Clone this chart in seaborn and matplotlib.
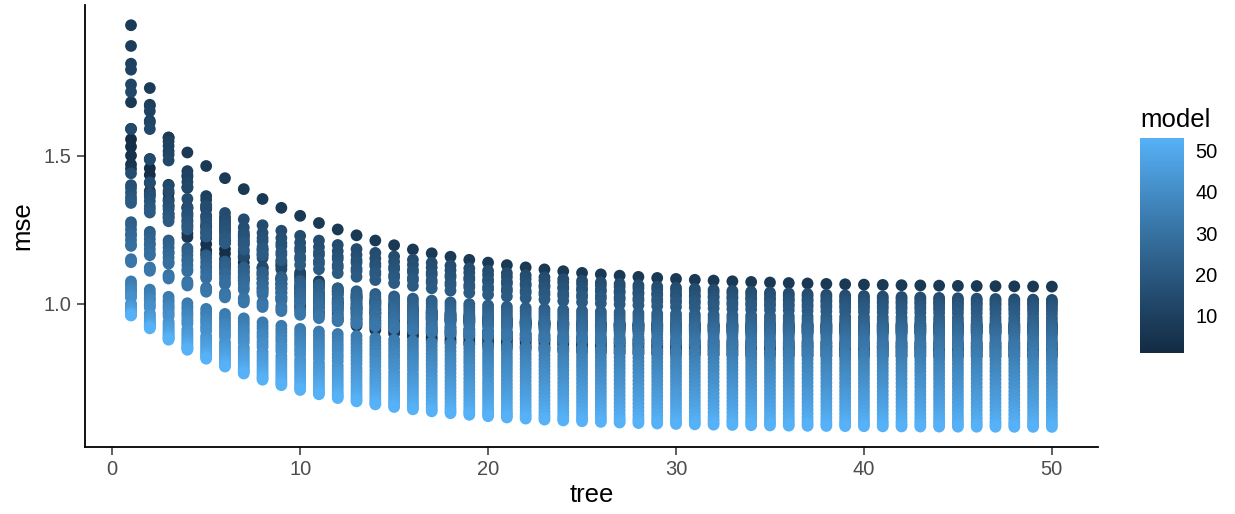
import numpy as np
import pandas as pd
import matplotlib
matplotlib.use("Agg")
import matplotlib.pyplot as plt
import seaborn as sns
from matplotlib.colors import ListedColormap, Normalize
from matplotlib.cm import ScalarMappable

# ---------------- data ----------------
trees = list(range(1, 51))
models = list(range(1, 54))
# mse at tree 1 per model
start_mse = [1.59, 1.555, 1.53, 1.50, 1.47, 1.455, 1.68, 1.94, 1.87, 1.81,
             1.79, 1.74, 1.715, 1.59, 1.44, 1.40, 1.39, 1.375, 1.36, 1.35,
             1.34, 1.275, 1.265, 1.25, 1.235, 1.23, 1.215, 1.20, 1.195, 1.15,
             1.145, 1.14, 1.075, 1.065, 1.06, 1.05, 1.045, 1.04, 1.03, 1.025,
             1.02, 1.0, 0.995, 0.99, 0.985, 0.98, 0.975, 0.97, 0.968, 0.965,
             0.963, 0.962, 0.96]
# mse at tree 50 per model
end_mse = [0.865, 0.855, 0.848, 0.84, 0.83, 0.822, 1.054, 0.93, 0.925, 0.92,
           0.915, 0.91, 0.905, 0.90, 1.0, 0.995, 0.99, 0.985, 0.978, 0.97,
           0.96, 0.95, 0.94, 0.93, 0.92, 0.91, 0.90, 0.89, 0.88, 0.87,
           0.86, 0.85, 0.835, 0.822, 0.808, 0.795, 0.782, 0.77, 0.757, 0.744,
           0.73, 0.717, 0.703, 0.69, 0.677, 0.664, 0.651, 0.638, 0.625, 0.612,
           0.60, 0.591, 0.583]
# per-tree shrink factor of the excess over the final mse
decay_rate = [0.86, 0.86, 0.86, 0.86, 0.86, 0.86, 0.90, 0.79, 0.79, 0.84,
              0.84, 0.845, 0.845, 0.85, 0.93, 0.93, 0.925, 0.925, 0.92, 0.92,
              0.915, 0.90, 0.90, 0.90, 0.90, 0.90, 0.90, 0.90, 0.90, 0.90,
              0.90, 0.90, 0.885, 0.885, 0.885, 0.885, 0.885, 0.885, 0.885, 0.885,
              0.885, 0.885, 0.885, 0.885, 0.885, 0.885, 0.885, 0.885, 0.885, 0.885,
              0.885, 0.885, 0.885]

rows = []
for m, s, e, r in zip(models, start_mse, end_mse, decay_rate):
    for t in trees:
        rows.append((m, t, e + (s - e) * r ** (t - 1)))
df = pd.DataFrame(rows, columns=["model", "tree", "mse"])

# ---------------- ggplot-like gradient (Lab interpolation) ----------------
def hex2rgb(h):
    h = h.lstrip('#')
    return np.array([int(h[i:i + 2], 16) / 255 for i in (0, 2, 4)])

M = np.array([[0.4124, 0.3576, 0.1805], [0.2126, 0.7152, 0.0722], [0.0193, 0.1192, 0.9505]])
WP = np.array([0.95047, 1.0, 1.08883])

def rgb2lab(c):
    lin = np.where(c <= 0.04045, c / 12.92, ((c + 0.055) / 1.055) ** 2.4)
    xyz = M @ lin / WP
    f = np.where(xyz > (6 / 29) ** 3, np.cbrt(xyz), xyz / (3 * (6 / 29) ** 2) + 4 / 29)
    return np.array([116 * f[1] - 16, 500 * (f[0] - f[1]), 200 * (f[1] - f[2])])

def lab2rgb(lab):
    fy = (lab[0] + 16) / 116
    fx = fy + lab[1] / 500
    fz = fy - lab[2] / 200
    f = np.array([fx, fy, fz])
    xyz = np.where(f > 6 / 29, f ** 3, 3 * (6 / 29) ** 2 * (f - 4 / 29)) * WP
    lin = np.linalg.inv(M) @ xyz
    lin = np.clip(lin, 0, 1)
    c = np.where(lin <= 0.0031308, 12.92 * lin, 1.055 * lin ** (1 / 2.4) - 0.055)
    return np.clip(c, 0, 1)

lo, hi = rgb2lab(hex2rgb("#132B43")), rgb2lab(hex2rgb("#56B1F7"))
cmap = ListedColormap([lab2rgb(lo + (hi - lo) * k) for k in np.linspace(0, 1, 256)])

# ---------------- plot ----------------
sns.set_theme(style="white")
plt.rcParams['font.family'] = ['Liberation Sans', 'DejaVu Sans']

fig = plt.figure(figsize=(12.35, 5.14), dpi=100)
ax = fig.add_axes([0.0688, 0.1304, 0.889 - 0.0688, 0.990 - 0.1304])

vmin, vmax = min(models), max(models)
sns.scatterplot(data=df, x="tree", y="mse", hue="model", palette=cmap,
                hue_norm=(vmin, vmax), s=72, linewidth=0, alpha=1,
                legend=False, ax=ax)

ax.set_xlim(1 - 0.05 * 49, 50 + 0.05 * 49)
ymin, ymax = df["mse"].min(), df["mse"].max()
yr = ymax - ymin
ax.set_ylim(ymin - 0.05 * yr, ymax + 0.05 * yr)
ax.set_xticks([0, 10, 20, 30, 40, 50])
ax.set_yticks([1.0, 1.5])
ax.set_yticklabels(["1.0", "1.5"])

for sp in ["top", "right"]:
    ax.spines[sp].set_visible(False)
for sp in ["left", "bottom"]:
    ax.spines[sp].set_color("black")
    ax.spines[sp].set_linewidth(1.3)
ax.tick_params(axis="both", which="major", length=5.5, width=1.1, color="#333333",
               labelsize=14.5, labelcolor="#4D4D4D", pad=4, bottom=True, left=True)
ax.set_xlabel("tree", fontsize=18.5, color="black", labelpad=3)
ax.set_ylabel("mse", fontsize=18.5, color="black", labelpad=7)
ax.grid(False)

# colour bar legend
cax = fig.add_axes([1140 / 1235, 1 - 353 / 514, 44 / 1235, 215 / 514])
sm = ScalarMappable(norm=Normalize(vmin, vmax), cmap=cmap)
cb = fig.colorbar(sm, cax=cax)
cb.outline.set_visible(False)
cb.set_ticks([10, 20, 30, 40, 50])
cax.tick_params(axis="y", direction="in", length=9, width=1.1, color="white",
                left=True, right=True, labelsize=14.5, labelcolor="black", pad=8)
fig.text(1140 / 1235, 1 - 120 / 514, "model", fontsize=18.5, color="black",
         ha="left", va="center")

fig.savefig("out.png", dpi=100)
